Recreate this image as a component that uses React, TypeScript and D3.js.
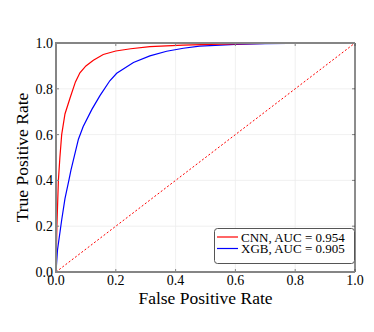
import React from "react";
import * as d3 from "d3";

const cnnFpr = [0, 0.003, 0.008, 0.013, 0.019, 0.03, 0.047, 0.065, 0.08, 0.1, 0.125, 0.158, 0.2, 0.25, 0.314, 0.425, 0.55, 0.7, 0.85, 1];
const cnnTpr = [0, 0.2, 0.4, 0.5, 0.6, 0.69, 0.76, 0.83, 0.87, 0.9, 0.925, 0.95, 0.965, 0.975, 0.984, 0.991, 0.995, 0.998, 0.999, 1];
const xgbFpr = [0, 0.005, 0.019, 0.03, 0.043, 0.05, 0.075, 0.091, 0.12, 0.147, 0.18, 0.203, 0.259, 0.314, 0.37, 0.426, 0.48, 0.55, 0.6, 0.7, 0.85, 1];
const xgbTpr = [0, 0.096, 0.227, 0.32, 0.4, 0.445, 0.58, 0.635, 0.71, 0.77, 0.835, 0.868, 0.915, 0.944, 0.964, 0.977, 0.986, 0.991, 0.994, 0.997, 0.999, 1];
const ticks = [0, 0.2, 0.4, 0.6, 0.8, 1.0];
const legendLabels = ["CNN, AUC = 0.954", "XGB, AUC = 0.905"];
const colors = ["#ff0000", "#0000ff"];

export default function App() {
  const W = 374, H = 332;
  const L = 56, R = 355, T = 43, B = 272;
  const x = d3.scaleLinear().domain([0, 1]).range([L, R]);
  const y = d3.scaleLinear().domain([0, 1]).range([B, T]);
  const line = d3.line<[number, number]>().x(d => x(d[0])).y(d => y(d[1]));
  const cnn = cnnFpr.map((f, i) => [f, cnnTpr[i]] as [number, number]);
  const xgb = xgbFpr.map((f, i) => [f, xgbTpr[i]] as [number, number]);
  const font = "Liberation Serif, Times New Roman, serif";
  const spine = "#858585";
  return (
    <svg width={W} height={H} style={{ position: "absolute", left: 0, top: 0, background: "#fff", fontFamily: font }}>
      <rect x={0} y={0} width={W} height={H} fill="#fff" />
      {ticks.map((t, i) => (
        <g key={"g" + i}>
          <line x1={x(t)} x2={x(t)} y1={T} y2={B} stroke="#ececec" strokeWidth={0.8} />
          <line x1={L} x2={R} y1={y(t)} y2={y(t)} stroke="#ececec" strokeWidth={0.8} />
        </g>
      ))}
      <path d={line([[0, 0], [1, 1]]) || ""} fill="none" stroke="#ff0000" strokeWidth={1} strokeDasharray="2,2" />
      <path d={line(xgb) || ""} fill="none" stroke={colors[1]} strokeWidth={1.2} />
      <path d={line(cnn) || ""} fill="none" stroke={colors[0]} strokeWidth={1.2} />
      {ticks.map((t, i) => (
        <g key={"t" + i} stroke={spine} strokeWidth={1}>
          <line x1={x(t)} x2={x(t)} y1={T} y2={T + 3} />
          <line x1={x(t)} x2={x(t)} y1={B} y2={B - 3} />
          <line x1={L} x2={L + 3} y1={y(t)} y2={y(t)} />
          <line x1={R} x2={R - 3} y1={y(t)} y2={y(t)} />
        </g>
      ))}
      <line x1={R} x2={R} y1={T} y2={B} stroke="#222" strokeWidth={1} />
      <line x1={L - 1} x2={R} y1={T} y2={T} stroke={spine} strokeWidth={2} />
      <line x1={L - 1} x2={R} y1={B} y2={B} stroke={spine} strokeWidth={2} />
      <line x1={L} x2={L} y1={T - 1} y2={B + 1} stroke={spine} strokeWidth={2} />
      {ticks.map((t, i) => (
        <text key={"xl" + i} x={x(t)} y={B + 13} fontSize={14} textAnchor="middle">{t.toFixed(1)}</text>
      ))}
      {ticks.map((t, i) => (
        <text key={"yl" + i} x={L - 3} y={y(t) + 5} fontSize={14} textAnchor="end">{t.toFixed(1)}</text>
      ))}
      <text x={(L + R) / 2} y={304} fontSize={17.5} textAnchor="middle">False Positive Rate</text>
      <text transform={`translate(28,${(T + B) / 2}) rotate(-90)`} fontSize={17.5} textAnchor="middle">True Positive Rate</text>
      <rect x={214.5} y={228.5} width={140} height={35} rx={3} fill="#fff" stroke="#555" strokeWidth={1} />
      {legendLabels.map((lab, i) => (
        <g key={"lg" + i}>
          <line x1={217} x2={238} y1={237 + i * 11.5} y2={237 + i * 11.5} stroke={colors[i]} strokeWidth={1.2} />
          <text x={241} y={241.5 + i * 11.5} fontSize={13}>{lab}</text>
        </g>
      ))}
    </svg>
  );
}
